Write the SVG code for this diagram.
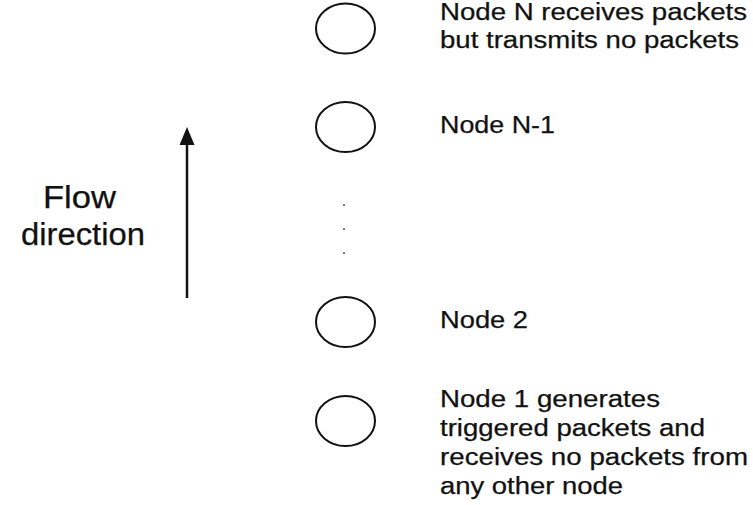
<svg xmlns="http://www.w3.org/2000/svg" width="753" height="505" viewBox="0 0 753 505">
<style>
.node{fill:none;stroke:#111;stroke-width:2}
.t{font-family:"Liberation Sans",Arial,sans-serif;font-size:23px;fill:#111;stroke:#111;stroke-width:0.25}
.f{font-family:"Liberation Sans",Arial,sans-serif;font-size:31px;fill:#111;stroke:#111;stroke-width:0.25}
</style>
<rect width="753" height="505" fill="#fff"/>
<g id="connectors">
<line x1="187" y1="298" x2="187" y2="145" stroke="#111" stroke-width="2.5"/>
<polygon points="187,127 179.5,145 194.5,145" fill="#111"/>
</g>
<g id="flow-label">
<text class="f" x="43" y="208" textLength="73" lengthAdjust="spacingAndGlyphs">Flow</text>
<text class="f" x="21" y="245" textLength="124" lengthAdjust="spacingAndGlyphs">direction</text>
</g>
<g id="nodeN">
<ellipse class="node" cx="345.5" cy="28.5" rx="29.5" ry="25"/>
<text class="t" x="440" y="20" textLength="307" lengthAdjust="spacingAndGlyphs">Node N receives packets</text>
<text class="t" x="440" y="48" textLength="299" lengthAdjust="spacingAndGlyphs">but transmits no packets</text>
</g>
<g id="nodeN-1">
<ellipse class="node" cx="345.5" cy="127" rx="29.5" ry="25"/>
<text class="t" x="440" y="133" textLength="115" lengthAdjust="spacingAndGlyphs">Node N-1</text>
</g>
<g id="dots" fill="#444">
<circle cx="344" cy="205" r="1"/>
<circle cx="344" cy="229" r="1"/>
<circle cx="344" cy="253" r="1"/>
</g>
<g id="node2">
<ellipse class="node" cx="345.5" cy="322" rx="29.5" ry="25"/>
<text class="t" x="440" y="328" textLength="88" lengthAdjust="spacingAndGlyphs">Node 2</text>
</g>
<g id="node1">
<ellipse class="node" cx="345.5" cy="421" rx="29.5" ry="25"/>
<text class="t" x="440" y="407" textLength="220" lengthAdjust="spacingAndGlyphs">Node 1 generates</text>
<text class="t" x="440" y="436" textLength="265" lengthAdjust="spacingAndGlyphs">triggered packets and</text>
<text class="t" x="440" y="465" textLength="308" lengthAdjust="spacingAndGlyphs">receives no packets from</text>
<text class="t" x="440" y="494" textLength="183" lengthAdjust="spacingAndGlyphs">any other node</text>
</g>
</svg>
